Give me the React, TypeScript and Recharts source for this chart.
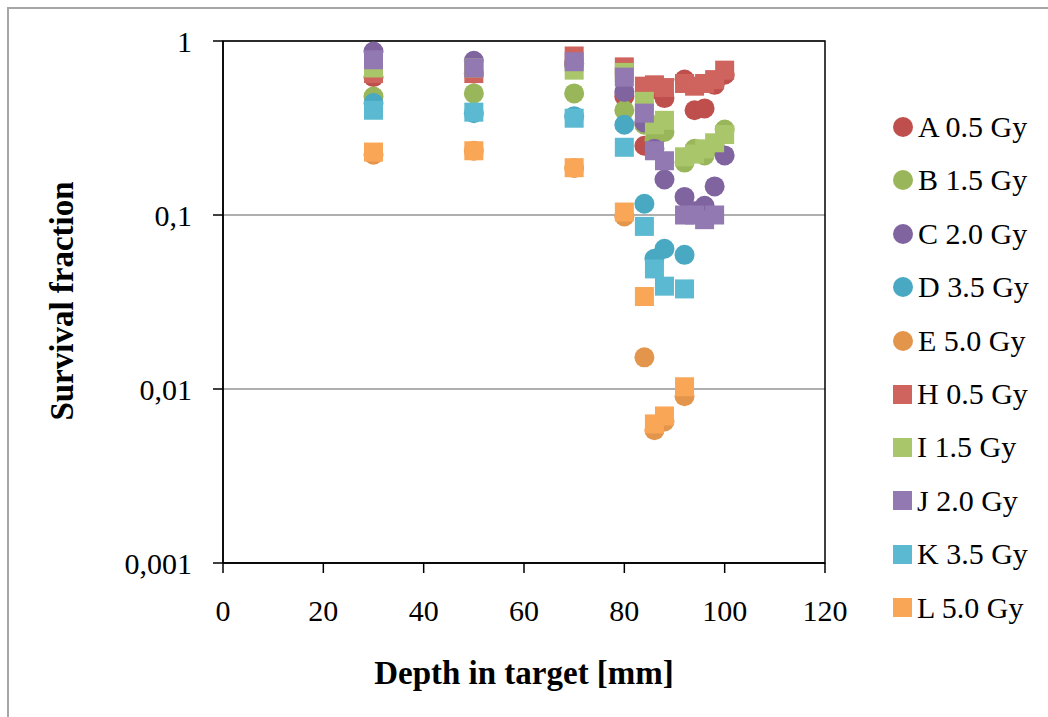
import {
  ScatterChart,
  Scatter,
  XAxis,
  YAxis,
  CartesianGrid,
  ReferenceArea
} from 'recharts'

// depths (mm) at which each series was measured
const depthsFull = [30, 50, 70, 80, 84, 86, 88, 92, 94, 96, 98, 100]
const depthsJ = [30, 50, 70, 80, 84, 86, 88, 92, 94, 96, 98]
const depthsShort = [30, 50, 70, 80, 84, 86, 88, 92]

const xTicks = [0, 20, 40, 60, 80, 100, 120]
const yTicks = [0.001, 0.01, 0.1, 1]

// survival fractions
const valuesA = [0.62, 0.65, 0.74, 0.48, 0.25, 0.53, 0.47, 0.6, 0.4, 0.41, 0.56, 0.64]
const valuesB = [0.48, 0.5, 0.5, 0.4, 0.33, 0.27, 0.3, 0.2, 0.24, 0.22, 0.25, 0.31]
const valuesC = [0.87, 0.77, 0.74, 0.51, 0.34, 0.24, 0.16, 0.127, 0.105, 0.113, 0.146, 0.22]
const valuesD = [0.44, 0.385, 0.37, 0.33, 0.116, 0.056, 0.064, 0.059]
const valuesE = [0.222, 0.234, 0.186, 0.098, 0.0152, 0.0058, 0.0065, 0.0091]
const valuesH = [0.65, 0.65, 0.82, 0.71, 0.55, 0.56, 0.54, 0.57, 0.55, 0.57, 0.6, 0.68]
const valuesI = [0.7, 0.7, 0.68, 0.66, 0.45, 0.33, 0.35, 0.216, 0.224, 0.24, 0.26, 0.29]
const valuesJ = [0.78, 0.7, 0.76, 0.62, 0.385, 0.234, 0.205, 0.1, 0.1, 0.094, 0.1]
const valuesK = [0.4, 0.39, 0.36, 0.245, 0.086, 0.049, 0.039, 0.0376]
const valuesL = [0.23, 0.234, 0.187, 0.104, 0.034, 0.0063, 0.007, 0.0103]

type Series = {
  name: string
  depths: number[]
  values: number[]
  color: string
  square: boolean
}

const series: Series[] = [
  { name: 'A 0.5 Gy', depths: depthsFull, values: valuesA, color: '#BE4F4C', square: false },
  { name: 'B 1.5 Gy', depths: depthsFull, values: valuesB, color: '#9AB65A', square: false },
  { name: 'C 2.0 Gy', depths: depthsFull, values: valuesC, color: '#7F64A0', square: false },
  { name: 'D 3.5 Gy', depths: depthsShort, values: valuesD, color: '#49A8C2', square: false },
  { name: 'E 5.0 Gy', depths: depthsShort, values: valuesE, color: '#E3954B', square: false },
  { name: 'H 0.5 Gy', depths: depthsFull, values: valuesH, color: '#CF635D', square: true },
  { name: 'I 1.5 Gy', depths: depthsFull, values: valuesI, color: '#A9C66B', square: true },
  { name: 'J 2.0 Gy', depths: depthsJ, values: valuesJ, color: '#9279B2', square: true },
  { name: 'K 3.5 Gy', depths: depthsShort, values: valuesK, color: '#5BB9D1', square: true },
  { name: 'L 5.0 Gy', depths: depthsShort, values: valuesL, color: '#F9A657', square: true }
]

const FONT = '"Liberation Serif", "Times New Roman", serif'

const fmtY = (v: number) => String(v).replace('.', ',')

function marker(color: string, square: boolean) {
  return (props: { cx?: number; cy?: number }) => {
    const { cx = 0, cy = 0 } = props
    if (square) {
      return <rect x={cx - 9.5} y={cy - 9.5} width={19} height={19} fill={color} />
    }
    return <circle cx={cx} cy={cy} r={10} fill={color} />
  }
}

export default function App() {
  return (
    <div style={{ position: 'absolute', left: 0, top: 0, width: 1048, height: 717, background: '#fff', fontFamily: FONT }}>
      {/* outer chart frame */}
      <div style={{ position: 'absolute', left: 7, top: 7, width: 1060, height: 730, borderLeft: '2px solid #A6A6A6', borderTop: '2px solid #A6A6A6' }} />

      <ScatterChart
        width={1048}
        height={717}
        margin={{ top: 41, right: 223, bottom: 84, left: 0 }}
        style={{ position: 'absolute', left: 0, top: 0 }}
      >
        <CartesianGrid vertical={false} stroke="#959595" strokeWidth={1.5} />
        <XAxis
          type="number"
          dataKey="x"
          domain={[0, 120]}
          ticks={xTicks}
          interval={0}
          height={70}
          tickSize={10}
          tickMargin={27}
          axisLine={{ stroke: '#000', strokeWidth: 1.5 }}
          tickLine={{ stroke: '#000', strokeWidth: 1.5 }}
          tick={{ fill: '#000', fontSize: 30, fontFamily: FONT }}
        />
        <YAxis
          type="number"
          dataKey="y"
          scale="log"
          domain={[0.001, 1]}
          ticks={yTicks}
          interval={0}
          allowDataOverflow
          width={223}
          tickSize={10}
          tickMargin={21}
          tickFormatter={fmtY}
          axisLine={{ stroke: '#000', strokeWidth: 1.5 }}
          tickLine={{ stroke: '#000', strokeWidth: 1.5 }}
          tick={{ fill: '#000', fontSize: 30, fontFamily: FONT }}
        />
        {series.map(s => (
          <Scatter
            key={s.name}
            name={s.name}
            data={s.depths.map((d, i) => ({ x: d, y: s.values[i] }))}
            fill={s.color}
            shape={marker(s.color, s.square)}
            isAnimationActive={false}
          />
        ))}
        <ReferenceArea
          x1={0}
          x2={120}
          y1={0.001}
          y2={1}
          fill="none"
          stroke="#000"
          strokeWidth={1.5}
          ifOverflow="visible"
        />
      </ScatterChart>

      {/* axis titles */}
      <div style={{ position: 'absolute', left: 524, top: 673, transform: 'translate(-50%, -50%)', fontSize: 33, fontWeight: 'bold', whiteSpace: 'nowrap' }}>
        Depth in target [mm]
      </div>
      <div style={{ position: 'absolute', left: 62, top: 301, transform: 'translate(-50%, -50%) rotate(-90deg)', fontSize: 33, fontWeight: 'bold', whiteSpace: 'nowrap' }}>
        Survival fraction
      </div>

      {/* legend */}
      {series.map((s, i) => (
        <div key={s.name} style={{ position: 'absolute', left: 893, top: 127 + i * 53.4, transform: 'translateY(-50%)', display: 'flex', alignItems: 'center', fontSize: 30, whiteSpace: 'nowrap' }}>
          <span
            style={{
              display: 'inline-block',
              width: s.square ? 19 : 20,
              height: s.square ? 19 : 20,
              borderRadius: s.square ? 0 : '50%',
              background: s.color,
              marginRight: 5
            }}
          />
          <span>{s.name}</span>
        </div>
      ))}
    </div>
  )
}
